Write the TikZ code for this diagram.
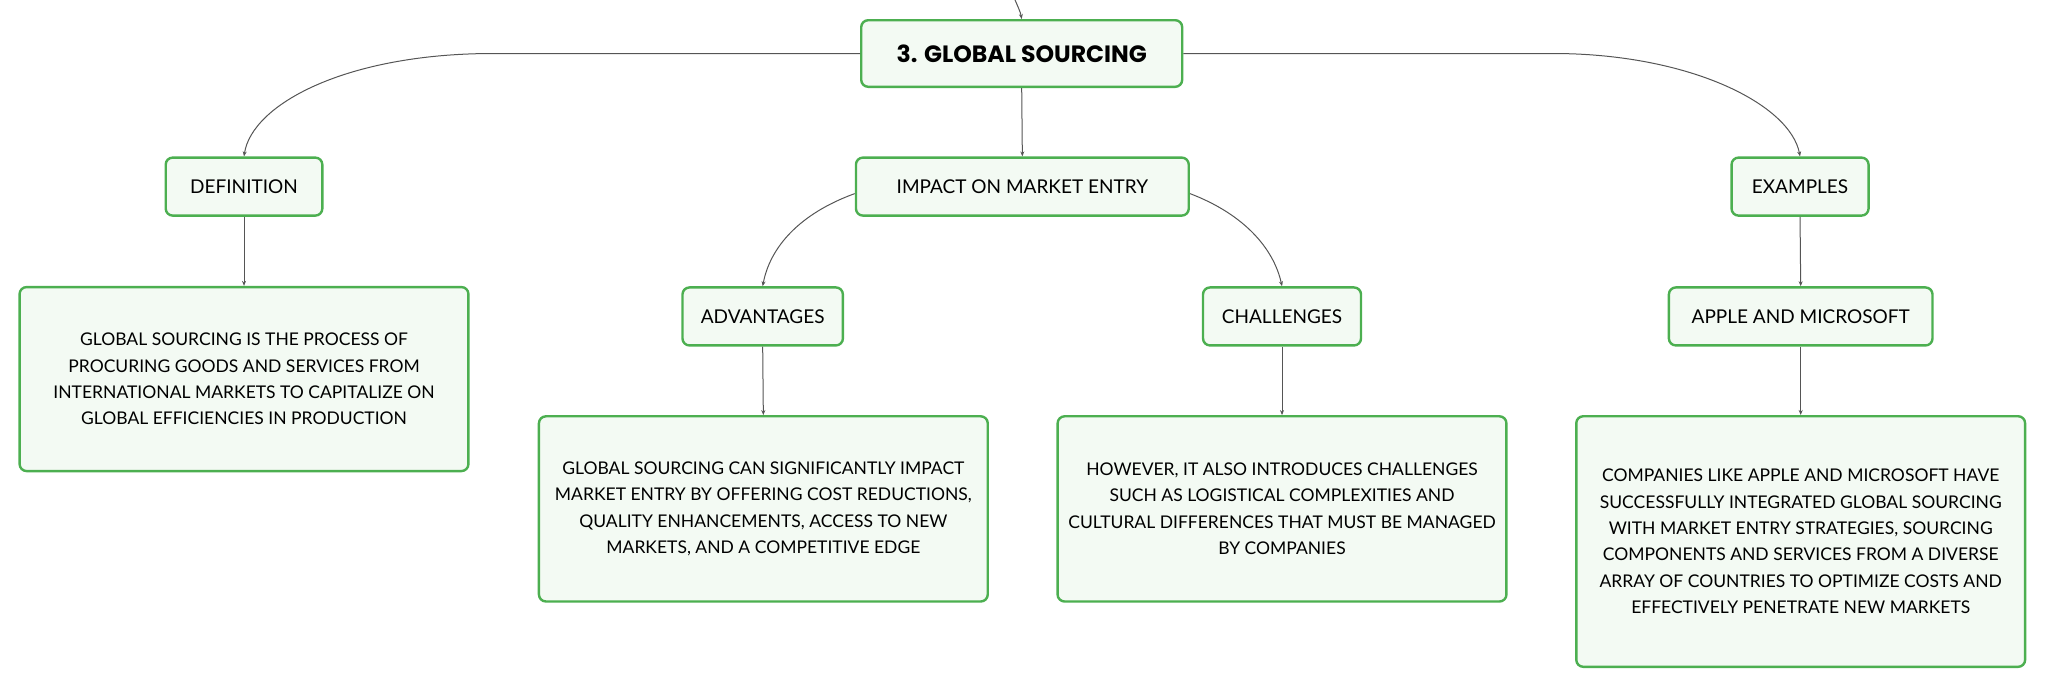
\documentclass[tikz,border=0pt]{standalone}
\usepackage{fontspec}
\setmainfont{Lato}
\newfontfamily\titlefont{Poppins}
\usetikzlibrary{arrows.meta}
\definecolor{boxline}{HTML}{4CAF50}
\definecolor{boxfill}{HTML}{F3FAF3}
\definecolor{conn}{HTML}{555555}
\begin{document}
\begin{tikzpicture}[x=0.6524pt,y=-0.6524pt,
  box/.style={draw=boxline, fill=boxfill, line width=1.2pt, rounded corners=3.5pt,
    inner sep=0pt, align=center, font=\fontsize{8.75}{13.2}\selectfont},
  labelbox/.style={box, minimum height=29pt, font=\fontsize{9.5}{12}\selectfont},
  textbox/.style={box, minimum width=224.4pt},
  titlebox/.style={box, minimum width=160.5pt, minimum height=33.3pt,
    font=\titlefont\bfseries\fontsize{11.8}{14}\selectfont},
  link/.style={draw=conn, line width=0.5pt, -{Stealth[length=2.5pt,width=2pt]}}]
\useasboundingbox (0,0) rectangle (1568,527.3);

\node[titlebox] (main) at (783,41) {3. GLOBAL SOURCING};

\node[labelbox, minimum width=78.3pt] (def) at (187,143) {DEFINITION};
\node[labelbox, minimum width=166.4pt] (impact) at (783.5,143) {IMPACT ON MARKET ENTRY};
\node[labelbox, minimum width=68.5pt] (ex) at (1379.5,143) {EXAMPLES};

\node[textbox, minimum height=92pt] (deftext) at (187,290.5)
  {GLOBAL SOURCING IS THE PROCESS OF\\PROCURING GOODS AND SERVICES FROM\\INTERNATIONAL MARKETS TO CAPITALIZE ON\\GLOBAL EFFICIENCIES IN PRODUCTION};

\node[labelbox, minimum width=80.2pt] (adv) at (584.5,242.5) {ADVANTAGES};
\node[labelbox, minimum width=79pt] (chal) at (982.5,242.5) {CHALLENGES};
\node[labelbox, minimum width=131.8pt] (apple) at (1380,242.5) {APPLE AND MICROSOFT};

\node[textbox, minimum height=92.6pt] (advtext) at (585,390)
  {GLOBAL SOURCING CAN SIGNIFICANTLY IMPACT\\MARKET ENTRY BY OFFERING COST REDUCTIONS,\\QUALITY ENHANCEMENTS, ACCESS TO NEW\\MARKETS, AND A COMPETITIVE EDGE};
\node[textbox, minimum height=92.6pt] (chaltext) at (982.5,390)
  {HOWEVER, IT ALSO INTRODUCES CHALLENGES\\SUCH AS LOGISTICAL COMPLEXITIES AND\\CULTURAL DIFFERENCES THAT MUST BE MANAGED\\BY COMPANIES};
\node[textbox, minimum height=125.3pt] (appletext) at (1380,415)
  {COMPANIES LIKE APPLE AND MICROSOFT HAVE\\SUCCESSFULLY INTEGRATED GLOBAL SOURCING\\WITH MARKET ENTRY STRATEGIES, SOURCING\\COMPONENTS AND SERVICES FROM A DIVERSE\\ARRAY OF COUNTRIES TO OPTIMIZE COSTS AND\\EFFECTIVELY PENETRATE NEW MARKETS};

\coordinate (topin) at (777.5,-1);
\coordinate (lbend) at (378,41);
\coordinate (rbend) at (1190,41);

\draw[link] (topin) .. controls (780,5) and (782,9) .. (main.north);
\draw[link] (main.west) -- (lbend) .. controls (265,41) and (193,80) .. (def.north);
\draw[link] (main.east) -- (rbend) .. controls (1295,41) and (1372,80) .. (ex.north);
\draw[link] (main.south) -- (impact.north);

\draw[link] (def.south) -- (deftext.north);
\draw[link] ([yshift=-3.5pt]impact.west) .. controls (612,164) and (590,190) .. (adv.north);
\draw[link] ([yshift=-3.5pt]impact.east) .. controls (953,164) and (976,190) .. (chal.north);
\draw[link] (adv.south) -- (advtext.north);
\draw[link] (chal.south) -- (chaltext.north);
\draw[link] (ex.south) -- (apple.north);
\draw[link] (apple.south) -- (appletext.north);
\end{tikzpicture}
\end{document}
